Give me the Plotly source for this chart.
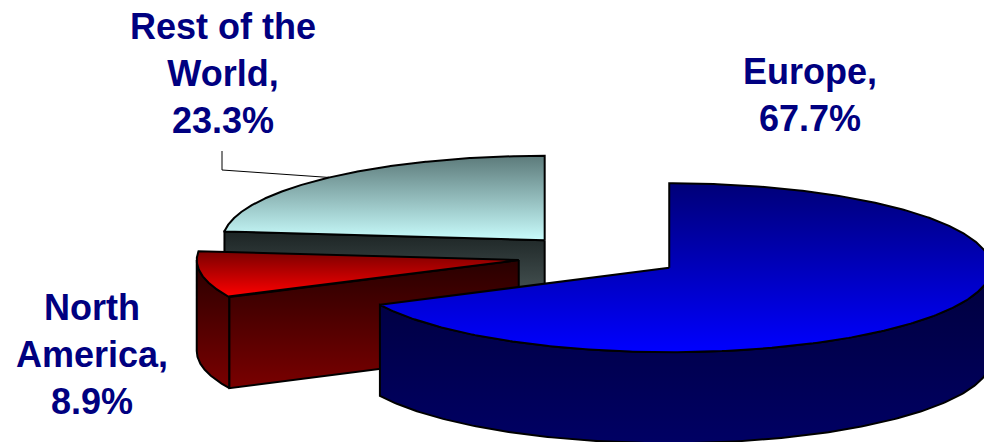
import numpy as np
import plotly.graph_objects as go

# ---- data ----
regions = ["Europe", "North America", "Rest of the World"]
label_names = ["Europe", "North<br>America", "Rest of the<br>World"]
shares = [67.7, 8.9, 23.3]

# ---- styling (per slice: top gradient, side gradient) ----
top_colors = [("#000078", "#0000FF"), ("#7A0000", "#FF0000"), ("#5C7A7A", "#C8FCFC")]
side_colors = [("#00003C", "#000064"), ("#280000", "#7A0000"), ("#1C2424", "#5E6E6E")]
label_color = "#000080"

# ---- 3D pie geometry (pixel space) ----
W, H = 984, 442
CX, CY = 599.6, 256.3
RX, RY = 322.0, 84.5
DEPTH = 91.0
EXPLODE = 0.255

total = float(sum(shares))
fracs = [s / total for s in shares]
starts = np.cumsum([0.0] + fracs[:-1]) * 2 * np.pi
ends = starts + np.array(fracs) * 2 * np.pi

fig = go.Figure()
LINE = dict(color="black", width=2)


def grad(c0, c1, y0, y1):
    return dict(type="vertical", colorscale=[[0, c0], [1, c1]], start=y0, stop=y1)


def poly(xs, ys, c0, c1):
    xs = list(xs)
    ys = list(ys)
    fig.add_trace(go.Scatter(
        x=xs + [xs[0]], y=ys + [ys[0]], mode="lines", fill="toself",
        line=LINE, fillgradient=grad(c0, c1, min(ys), max(ys)),
        hoverinfo="skip", showlegend=False))


slice_geo = []
for i in range(len(shares)):
    a0, a1 = starts[i], ends[i]
    m = 0.5 * (a0 + a1)
    sx = CX + EXPLODE * RX * np.sin(m)
    sy = CY - EXPLODE * RY * np.cos(m)
    slice_geo.append((a0, a1, m, sx, sy))

# draw back-to-front: Rest of the World, North America, Europe
order = [2, 1, 0]
for i in order:
    a0, a1, m, sx, sy = slice_geo[i]
    sc0, sc1 = side_colors[i]
    tc0, tc1 = top_colors[i]

    def ox(t):
        return sx + RX * np.sin(t)

    def oy(t):
        return sy - RY * np.cos(t)

    # outer curved face (front half only)
    lo, hi = max(a0, np.pi / 2), min(a1, 3 * np.pi / 2)
    if hi > lo:
        t = np.linspace(lo, hi, 200)
        xs = np.concatenate([ox(t), ox(t[::-1])])
        ys = np.concatenate([oy(t), oy(t[::-1]) + DEPTH])
        poly(xs, ys, sc0, sc1)
    # radial faces that face the viewer
    for a, vis in ((a0, np.sin(a0) < -1e-9), (a1, np.sin(a1) > 1e-9)):
        if vis:
            xs = [sx, ox(a), ox(a), sx]
            ys = [sy, oy(a), oy(a) + DEPTH, sy + DEPTH]
            poly(xs, ys, sc0, sc1)
    # top face
    t = np.linspace(a0, a1, 400)
    xs = np.concatenate([[sx], ox(t)])
    ys = np.concatenate([[sy], oy(t)])
    poly(xs, ys, tc0, tc1)

# leader line for Rest of the World (from slice mid-angle outer point)
a0, a1, m, sx, sy = slice_geo[2]
LEADER_X, LEADER_ELBOW, LEADER_TOP = 222, 170, 151
fig.add_trace(go.Scatter(
    x=[sx + RX * np.sin(m), LEADER_X, LEADER_X],
    y=[sy - RY * np.cos(m), LEADER_ELBOW, LEADER_TOP],
    mode="lines", line=dict(color="black", width=1),
    hoverinfo="skip", showlegend=False))

# labels
label_pos = {0: (810, 95), 1: (92, 354), 2: (223, 73)}
for i, name in enumerate(label_names):
    x, y = label_pos[i]
    fig.add_annotation(
        x=x, y=y, xref="x", yref="y", showarrow=False,
        text=f"<b>{name},<br>{shares[i]}%</b>", align="center",
        xanchor="center", yanchor="middle",
        font=dict(family="Liberation Sans, Arial, sans-serif", size=36, color=label_color))

fig.update_layout(
    width=W, height=H, margin=dict(l=0, r=0, t=0, b=0),
    paper_bgcolor="white", plot_bgcolor="white", showlegend=False,
    xaxis=dict(range=[0, W], visible=False, fixedrange=True),
    yaxis=dict(range=[H, 0], visible=False, fixedrange=True),
)

fig.write_html("out.html")
